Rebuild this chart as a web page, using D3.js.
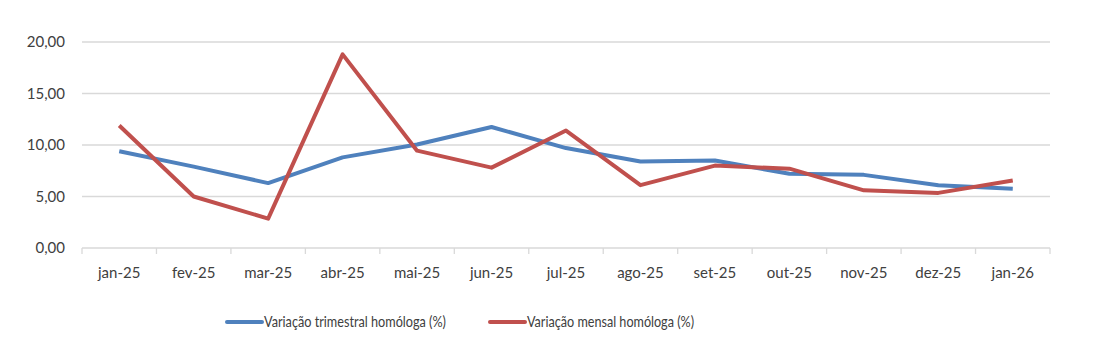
<!DOCTYPE html>
<html>
<head>
<meta charset="utf-8">
<script src="https://cdn.jsdelivr.net/npm/d3@7"></script>
<style>
  body { margin: 0; background: #fff; }
  text { font-family: Lato, "Open Sans", sans-serif; fill: #404040; }
</style>
</head>
<body>
<div></div>
<script>
(async () => {

    const months = ["jan-25", "fev-25", "mar-25", "abr-25", "mai-25", "jun-25", "jul-25",
                    "ago-25", "set-25", "out-25", "nov-25", "dez-25", "jan-26"]
    const trimestral = [9.4, 7.9, 6.3, 8.8, 10.05, 11.75, 9.7, 8.4, 8.5, 7.2, 7.1, 6.1, 5.75]
    const mensal = [11.9, 5.0, 2.85, 18.8, 9.45, 7.8, 11.4, 6.1, 8.0, 7.7, 5.6, 5.35, 6.55]
    const yTicks = [0, 5, 10, 15, 20]
    const seriesNames = ["Variação trimestral homóloga (%)", "Variação mensal homóloga (%)"]
    const colors = ["#4F81BD", "#C0504D"]

    const margin = { top: 42, right: 53, bottom: 106, left: 82 };
    const width = 1103 - margin.left - margin.right;
    const height = 354 - margin.top - margin.bottom;

    const svg = d3.select("div")
        .append("svg")
        .attr("width", 1103)
        .attr("height", 354)

    const chart = svg.append("g")
        .attr("transform", `translate(${margin.left}, ${margin.top})`)

    let x_scale = d3.scaleBand()
        .domain(months)
        .range([0, width])

    let y_scale = d3.scaleLinear()
        .domain([0, 20])
        .range([height, 0])

    // grid lines
    chart.append("g")
        .selectAll("line")
        .data(yTicks.slice(1))
        .enter()
        .append("line")
            .attr("x1", 0)
            .attr("x2", width)
            .attr("y1", d => y_scale(d))
            .attr("y2", d => y_scale(d))
            .attr("stroke", "#d9d9d9")
            .attr("stroke-width", 1.3)

    // y axis labels
    let y_axis = d3.axisLeft(y_scale)
        .tickValues(yTicks)
        .tickSize(0)
        .tickPadding(17)
        .tickFormat(d => d3.format(".2f")(d).replace(".", ","))

    chart.append("g")
        .attr("class", "y_axis")
        .call(y_axis)
        .call(g => g.select(".domain").remove())
        .selectAll("text")
            .style("font-size", "15px")

    // x axis with ticks at category boundaries
    const xg = chart.append("g")
        .attr("transform", `translate(0, ${height})`)

    xg.append("line")
        .attr("x1", 0).attr("x2", width)
        .attr("stroke", "#d9d9d9").attr("stroke-width", 1.3)

    xg.selectAll(".tick")
        .data(months.concat(["end"]))
        .enter()
        .append("line")
            .attr("x1", (d, i) => i < months.length ? x_scale(d) : width)
            .attr("x2", (d, i) => i < months.length ? x_scale(d) : width)
            .attr("y1", 0)
            .attr("y2", 6)
            .attr("stroke", "#d9d9d9")
            .attr("stroke-width", 1.3)

    xg.selectAll(".label")
        .data(months)
        .enter()
        .append("text")
            .attr("x", d => x_scale(d) + x_scale.bandwidth() / 2)
            .attr("y", 30)
            .attr("text-anchor", "middle")
            .style("font-size", "15px")
            .text(d => d)

    // lines
    const line = d3.line()
        .x((d, i) => x_scale(months[i]) + x_scale.bandwidth() / 2)
        .y(d => y_scale(d))

    ;[trimestral, mensal].forEach((series, k) => {
        chart.append("path")
            .datum(series)
            .attr("fill", "none")
            .attr("stroke", colors[k])
            .attr("stroke-width", 4)
            .attr("stroke-linejoin", "round")
            .attr("d", line)
    })

    // legend
    const legendX = [227, 490]
    const legendW = [182, 167]
    seriesNames.forEach((name, k) => {
        const lg = svg.append("g")
            .attr("transform", `translate(${legendX[k]}, 322)`)
        lg.append("line")
            .attr("x1", 0).attr("x2", 35)
            .attr("stroke", colors[k])
            .attr("stroke-width", 4)
            .attr("stroke-linecap", "round")
        lg.append("text")
            .attr("x", 37)
            .attr("y", 5)
            .attr("textLength", legendW[k])
            .attr("lengthAdjust", "spacingAndGlyphs")
            .style("font-size", "15px")
            .text(name)
    })

})();
</script>
</body>
</html>
